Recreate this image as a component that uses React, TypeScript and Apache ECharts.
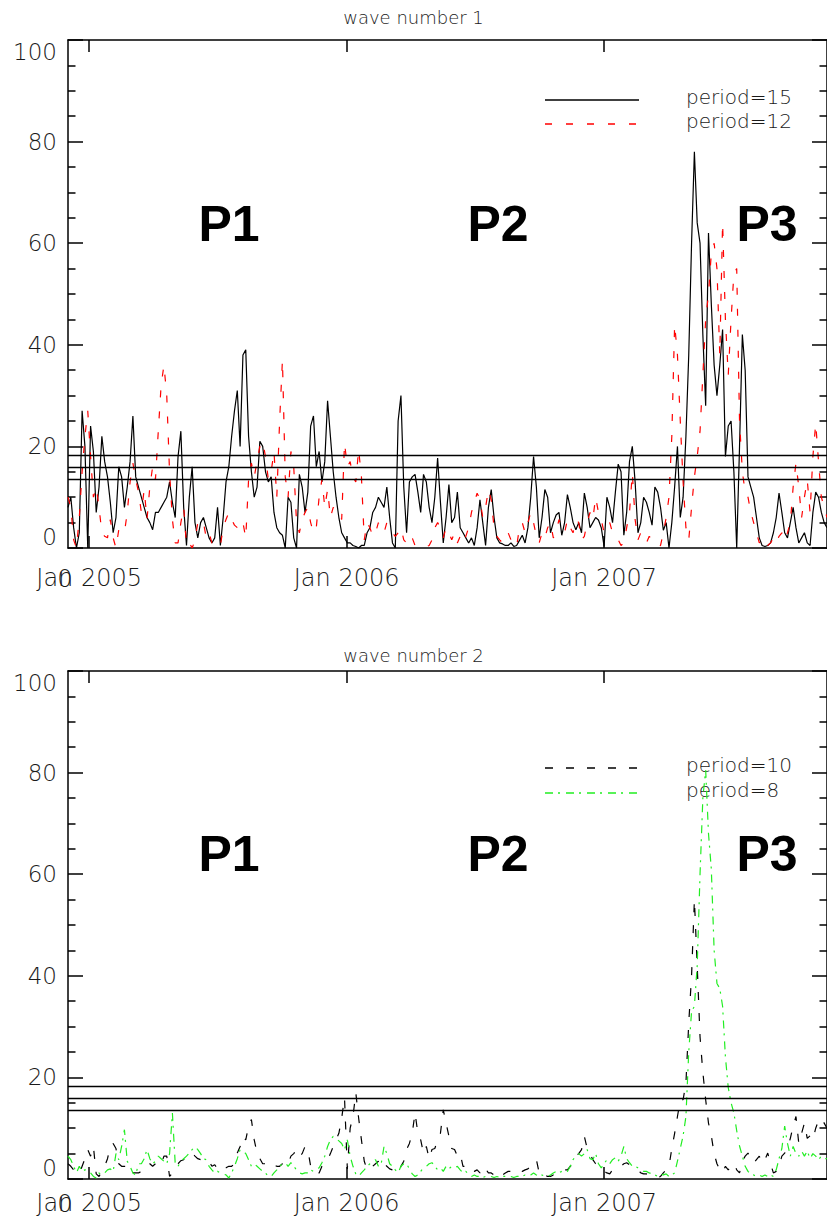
import React, { useEffect, useRef } from 'react';
import * as echarts from 'echarts';

// time axis: days since 1 Jan 2005, one reading every 4 days
const START_DAY = -30;
const STEP_DAYS = 4;
const X_MIN = -30;
const X_MAX = 1046;
const X_TICK_DAYS = [0, 365, 730];
const X_TICK_LABELS = ['Jan 2005', 'Jan 2006', 'Jan 2007'];
const Y_TICKS_MAX = 100;
const SIG_LEVELS = [18.2, 15.9, 13.6];
const TITLES = ['wave number 1', 'wave number 2'];
const PERIOD_LABELS = ['P1', 'P2', 'P3'];
const LEGEND_TOP = ['period=15', 'period=12'];
const LEGEND_BOTTOM = ['period=10', 'period=8'];

// wave number 1, period=15 (black solid)
const W1_P15 = [
  8, 10, 4, 0, 3, 27, 20, 0, 24, 19,
  7, 12, 22, 17, 14, 9, 3, 6, 16, 14,
  8, 12, 17, 26, 14, 12, 10, 8, 6, 5,
  3.6, 7, 7, 8, 9, 10, 13, 9, 6, 18,
  23, 8, 0.5, 10, 16, 5, 2, 5, 6, 4,
  2, 1, 2, 8, 0.5, 6, 13, 16, 22, 27,
  31, 20, 38, 39, 22, 15, 10, 12, 21, 20,
  15, 13, 14, 7, 4, 3, 2.5, 0, 10, 9,
  2, 0, 14.5, 12, 7, 11, 24, 26, 16, 19,
  13, 17, 29, 22, 15, 10, 6, 3, 2, 1,
  1, 0.5, 0.3, 0, 0.5, 0.5, 3, 4, 7, 8,
  10, 9, 8, 12, 6, 1, 0, 25, 30, 12,
  3, 13, 14, 14.5, 11, 7, 14.5, 13, 8, 5,
  10, 17.7, 9, 1, 6, 12.5, 5, 6, 11, 4,
  3, 2, 1, 2, 0.5, 4, 9.5, 5, 0.5, 8,
  11.5, 6, 2, 1, 0.8, 0.5, 0.5, 1, 0.3, 0.5,
  1.5, 2.5, 1, 4, 10, 18, 12, 2, 6, 11.5,
  10, 3, 5, 6.5, 7, 2.5, 5, 10.5, 8, 5,
  3.6, 5, 3, 10.8, 8, 4, 5, 6, 5.5, 4,
  0.3, 10, 8, 5, 11, 16.5, 15, 2.5, 7, 17,
  20, 13, 3, 5, 10, 9, 7, 4.5, 12, 11,
  8, 3.5, 5, 0, 5, 12, 20, 6, 10, 22,
  38, 60, 78, 64, 60, 42, 28, 62, 48, 36,
  30, 36, 43, 18, 24, 25, 15, 0, 20, 42,
  35, 14, 12, 10, 6, 2, 0.5, 0.3, 0.5, 1,
  3, 6, 10.8, 7, 3, 2, 5, 8, 4, 1,
  2, 3, 1, 0.5, 7, 11, 10, 7, 5, 4,
];

// wave number 1, period=12 (red dashed)
const W1_P12 = [
  10, 8, 1.6, 0, 6, 15, 22, 27, 18, 10,
  12, 8, 3, 2.3, 2, 5.6, 2, 0, 3.6, 3,
  3, 7, 13, 16.7, 13.5, 11, 7, 11.5, 5.6, 12,
  16, 13.5, 23, 32, 36, 30, 14.8, 5.6, 1, 1,
  5, 8, 0.5, 1, 0, 1.5, 5, 5.6, 5, 2,
  3, 1, 0.5, 0, 0.5, 4, 5.6, 7, 5.6, 4.5,
  4, 3.6, 5, 2, 13.5, 16.7, 14, 17, 20, 21,
  18, 13.5, 15, 19, 10, 25, 37, 14, 10, 19,
  16, 5, 3, 5.6, 7, 8, 5, 3, 4, 10,
  13.5, 8, 11.5, 6, 8, 7, 7, 5.6, 20.7, 16,
  17, 14, 13, 19.4, 14, 1.6, 5, 4, 2.3, 3,
  5, 3.6, 3, 5, 4, 3, 2.3, 3, 4, 1.6,
  1, 0.5, 2, 0.5, 0.3, 0.5, 0.5, 0.3, 0.5, 1.6,
  4, 5, 4, 2, 4, 3, 1.6, 3, 1, 2.3,
  1, 2.3, 4, 7, 9, 10.8, 9.5, 6, 8, 11.5,
  9.5, 4, 2.3, 1.6, 1, 2.3, 3, 1.6, 0.5, 0.3,
  4, 5, 3, 5, 7, 5, 2.3, 1, 3, 2,
  4, 5, 2, 3, 5.6, 4, 3, 5.6, 4, 3,
  5.6, 5, 1.6, 2.3, 5, 7, 5.6, 10, 7, 5.6,
  3, 4, 5, 3, 2.3, 1.6, 0.5, 1, 4, 7,
  14.8, 5.6, 1.6, 3, 2.3, 1, 2.3, 1.6, 1, 0.3,
  0.5, 3, 6, 10, 22, 44, 38, 25, 13, 4,
  1.6, 8, 14, 18, 23, 34, 45, 50, 58, 60,
  55, 38, 64, 45, 34, 45, 54, 55, 25, 15,
  11, 10, 7, 5, 3, 1, 2, 1.5, 0.5, 1,
  2, 1, 2.3, 3, 1.5, 3, 5, 12, 16.7, 12,
  6, 10, 13.4, 7, 18, 24.5, 17, 10, 8, 6,
];

// wave number 2, period=10 (black dashed)
const W2_P10 = [
  3, 2.5, 1.8, 1.2, 1, 2.5, 4, 5.8, 4.5, 6.4,
  1, 0.5, 1.5, 2.5, 4, 6.4, 7, 6, 3, 2.5,
  2.5, 2.5, 1, 1.2, 1.2, 1.2, 1.5, 2.5, 3, 3,
  2.5, 3, 2.5, 2.8, 4.5, 4.5, 0.5, 1.2, 2.5, 3,
  3.6, 3.8, 4.5, 4.8, 5.1, 4.5, 4, 3.8, 4, 3.5,
  3.5, 2.5, 2.8, 2, 1.5, 2, 2.2, 2.5, 2.5, 3,
  5.1, 6.4, 8.4, 7.7, 10.4, 11.7, 7.7, 5.1, 4, 3,
  3, 3.5, 3, 2.8, 2.5, 2.5, 3, 2.5, 3, 4.5,
  5, 5.8, 4.5, 5, 6.4, 5.8, 2.5, 1.8, 1, 1.2,
  2.5, 3, 3.8, 5, 6.4, 7.7, 9, 12, 16, 2,
  10, 12.3, 17, 12, 7.7, 3.5, 1.8, 2.5, 2.5, 3,
  3.5, 2.5, 3.2, 2.5, 2, 1.8, 1.8, 1.2, 2.5, 3.5,
  5.8, 7, 9, 13, 9, 7.7, 5, 6.4, 4, 5.8,
  6, 7.7, 9, 13.6, 11, 8.4, 6, 5.8, 4.5, 5,
  2.5, 2.5, 1.8, 1.2, 1.5, 1.8, 1.2, 2.5, 2, 1.2,
  1.2, 0.8, 1.2, 0.5, 0.8, 1.2, 1.5, 1.5, 1.2, 1.5,
  1.8, 1.5, 1.8, 2, 2.5, 3, 3.8, 1.2, 0.5, 0.8,
  0.5, 0.5, 0.8, 0.8, 1.2, 1.5, 1.8, 1.8, 2.5, 3,
  4.5, 5, 5.8, 8.4, 6, 5, 3.8, 3, 2.5, 1.8,
  1.5, 1.2, 1, 1.8, 2.2, 2.5, 2.5, 3, 3.2, 2.8,
  2.5, 2, 1.8, 1.2, 1, 1, 0.8, 0.8, 0.5, 0.3,
  0.5, 1.2, 1.8, 2.5, 6, 9, 12.3, 15.6, 15.6, 18.9,
  30.7, 40, 55, 42, 28, 21, 15.6, 11, 8.5, 5,
  3, 1.8, 1.2, 2.5, 1.8, 2.5, 3.1, 1.8, 1.2, 3.5,
  4.5, 5.1, 4, 3.1, 3.8, 4.5, 3.1, 3.8, 5.1, 3,
  1.2, 1.5, 2.5, 4.5, 5.1, 6, 8, 10.4, 12.3, 7,
  9, 11, 8, 8.5, 7.7, 10, 11.5, 12, 11, 10,
];

// wave number 2, period=8 (green dash-dot)
const W2_P8 = [
  4.5, 3.8, 2.5, 1.2, 2.5, 1.5, 1.8, 1.8, 1.2, 0.5,
  0.2, 1.2, 0.8, 1.2, 1.8, 2, 1.5, 5, 3.8, 6.4,
  9.7, 3.5, 2.5, 1.2, 0.8, 3, 3, 4, 5.8, 4,
  3, 3.5, 4.5, 4, 3.5, 3, 5, 13, 3, 2.5,
  3.5, 4, 4.5, 5.1, 5.8, 6.4, 5.8, 5, 4, 3.8,
  2.5, 1.8, 1.2, 1.5, 1.2, 1, 0.8, 0.2, 1.2, 2.5,
  4, 5.8, 5.5, 5, 3.8, 2.5, 3, 2.5, 2, 1.5,
  1.2, 0.5, 0.5, 1.2, 1.8, 2.5, 3, 3.2, 2.5, 3.2,
  2.5, 1.8, 1.2, 1, 1.2, 1.2, 1.8, 1.5, 2, 2.2,
  3.2, 4.5, 6.4, 7.7, 8.4, 8, 7.5, 7, 5.8, 7.7,
  4.5, 2.5, 1, 0.5, 1.2, 1.8, 2.5, 3, 3.5, 3.8,
  2.5, 3, 6.4, 5, 3, 2.5, 1.8, 1.2, 2.5, 3,
  3, 2, 1, 0.5, 0.8, 1.5, 2.2, 2.5, 3, 3.2,
  2.5, 1.8, 2.2, 1.5, 2.5, 2, 2.5, 2.2, 2.5, 1.8,
  1.2, 1.5, 0.8, 0.5, 0.8, 0.5, 0.5, 0.3, 0.5, 0.3,
  0.5, 0.3, 0.5, 0.3, 0.5, 0.5, 0.3, 0.5, 0.3, 0.5,
  0.5, 0.5, 0.8, 0.5, 0.8, 1.2, 0.8, 0.5, 0.8, 0.5,
  0.5, 0.8, 1.2, 1.5, 1.2, 1.5, 1.8, 1.5, 2.5, 3.8,
  4.5, 5, 4.5, 5, 5.8, 4, 3.8, 5, 3, 2.2,
  3, 3.8, 3, 3.8, 4.2, 3.5, 4.5, 6.4, 4, 3.2,
  2.5, 2.5, 2.2, 2, 1.5, 1.5, 1.2, 1, 0.8, 0.5,
  1, 0.8, 1, 0.5, 0.8, 1.2, 3.5, 6, 8.5, 12.3,
  25, 33, 34, 42, 60, 75, 80.5, 68, 61, 45,
  38.5, 37.5, 34, 24, 18, 15, 13, 9.5, 6.5, 4.5,
  2.5, 1.5, 1, 0.8, 0.5, 0.8, 0.5, 0.8, 0.5, 0.8,
  0.5, 1.8, 4, 6, 10.4, 7, 4.5, 6.4, 5, 4.5,
  5.5, 4.5, 5.5, 4, 5, 4.5, 3.8, 4.5, 4, 4,
];

const FONT = 'DejaVu Sans';
const TEXT_COLOR = '#1a1a1a';

const toPairs = (vals: number[]) => vals.map((v, i) => [START_DAY + i * STEP_DAYS, v]);

const sigMarkLine = {
  silent: true,
  symbol: ['none', 'none'],
  label: { show: false },
  lineStyle: { type: 'solid', color: '#000', width: 1.3 },
  data: SIG_LEVELS.map((v) => ({ yAxis: v })),
};

function xAxis(gridIndex: number, position: string, showLabel: boolean, margin: number) {
  return {
    type: 'value',
    gridIndex,
    position,
    min: X_MIN,
    max: X_MAX,
    axisLine: { show: true, onZero: false, lineStyle: { color: '#000', width: 1.5 } },
    axisTick: { show: true, inside: true, length: 12, customValues: X_TICK_DAYS, lineStyle: { color: '#000', width: 1.5 } },
    axisLabel: {
      show: showLabel,
      customValues: X_TICK_DAYS,
      formatter: (v: number) => {
        const k = X_TICK_DAYS.indexOf(v);
        return k >= 0 ? X_TICK_LABELS[k] : '';
      },
      margin,
      fontSize: 24,
      fontFamily: FONT,
      fontWeight: 200,
      color: TEXT_COLOR,
    },
    splitLine: { show: false },
  };
}

function yAxis(gridIndex: number, position: string, showLabel: boolean) {
  return {
    type: 'value',
    gridIndex,
    position,
    min: 0,
    max: Y_TICKS_MAX,
    interval: 20,
    axisLine: { show: true, onZero: false, lineStyle: { color: '#000', width: 1.5 } },
    axisTick: { show: true, inside: true, length: 15, lineStyle: { color: '#000', width: 1.5 } },
    minorTick: { show: true, splitNumber: 4, length: 7.5, lineStyle: { color: '#000', width: 1.5 } },
    axisLabel: {
      show: showLabel,
      margin: 11,
      fontSize: 23,
      fontFamily: FONT,
      fontWeight: 200,
      color: TEXT_COLOR,
      verticalAlignMinLabel: 'bottom',
      verticalAlignMaxLabel: 'top',
    },
    splitLine: { show: false },
    minorSplitLine: { show: false },
  };
}

function legendItems(names: string[], ys: number[], styles: any[]) {
  const out: any[] = [];
  names.forEach((n, i) => {
    out.push({ type: 'line', shape: { x1: 545, y1: ys[i], x2: 639, y2: ys[i] }, style: styles[i] });
    out.push({
      type: 'text', x: 686, y: ys[i] - 3,
      style: { text: n, fontSize: 20, fontFamily: FONT, fontWeight: 200, fill: TEXT_COLOR, align: 'left', verticalAlign: 'middle' },
    });
  });
  return out;
}

function periodLabels(y: number) {
  const xs = [229, 498, 767];
  return PERIOD_LABELS.map((t, i) => ({
    type: 'text', x: xs[i], y,
    style: { text: t, fontSize: 50, fontWeight: 'bold', fontFamily: 'Liberation Sans', fill: '#000', align: 'center', verticalAlign: 'middle' },
  }));
}

export default function App() {
  const ref = useRef<HTMLDivElement>(null);
  useEffect(() => {
    if (!ref.current) return;
    const chart = echarts.init(ref.current, null, { renderer: 'svg' });
    const solid = { stroke: '#000', lineWidth: 1.3 };
    const redDash = { stroke: '#ff0000', lineWidth: 1.3, lineDash: [7, 14] };
    const blackDash = { stroke: '#000', lineWidth: 1.3, lineDash: [8, 13] };
    const greenDashDot = { stroke: '#22ee22', lineWidth: 1.3, lineDash: [8, 5, 2, 6] };
    const option: any = {
      animation: false,
      backgroundColor: '#fff',
      title: TITLES.map((t, i) => ({
        text: t,
        left: 'center',
        top: i === 0 ? 3 : 641,
        textStyle: { fontSize: 18, fontFamily: FONT, fontWeight: 200, color: TEXT_COLOR },
      })),
      grid: [
        { left: 68, top: 40, width: 765, height: 508 },
        { left: 68, top: 671, width: 765, height: 508 },
      ],
      xAxis: [
        xAxis(0, 'bottom', true, 18), xAxis(0, 'top', false, 18),
        xAxis(1, 'bottom', true, 12), xAxis(1, 'top', false, 12),
      ],
      yAxis: [yAxis(0, 'left', true), yAxis(0, 'right', false), yAxis(1, 'left', true), yAxis(1, 'right', false)],
      series: [
        {
          type: 'line', name: LEGEND_TOP[0], xAxisIndex: 0, yAxisIndex: 0, data: toPairs(W1_P15),
          symbol: 'none', lineStyle: { color: '#000', width: 1.2 }, markLine: sigMarkLine,
        },
        {
          type: 'line', name: LEGEND_TOP[1], xAxisIndex: 0, yAxisIndex: 0, data: toPairs(W1_P12),
          symbol: 'none', lineStyle: { color: '#ff0000', width: 1.2, type: [7, 14] },
        },
        {
          type: 'line', name: LEGEND_BOTTOM[0], xAxisIndex: 2, yAxisIndex: 2, data: toPairs(W2_P10),
          symbol: 'none', lineStyle: { color: '#000', width: 1.2, type: [8, 13] }, markLine: sigMarkLine,
        },
        {
          type: 'line', name: LEGEND_BOTTOM[1], xAxisIndex: 2, yAxisIndex: 2, data: toPairs(W2_P8),
          symbol: 'none', lineStyle: { color: '#22ee22', width: 1.2, type: [8, 5, 2, 6] },
        },
      ],
      graphic: [
        ...legendItems(LEGEND_TOP, [100, 124], [solid, redDash]),
        ...legendItems(LEGEND_BOTTOM, [768, 793], [blackDash, greenDashDot]),
        ...periodLabels(224),
        ...periodLabels(854),
        { type: 'text', x: 65, y: 579, style: { text: '0', fontSize: 24, fontFamily: FONT, fontWeight: 200, fill: TEXT_COLOR, align: 'center', verticalAlign: 'middle' } },
        { type: 'text', x: 65, y: 1204, style: { text: '0', fontSize: 24, fontFamily: FONT, fontWeight: 200, fill: TEXT_COLOR, align: 'center', verticalAlign: 'middle' } },
      ],
    };
    chart.setOption(option);
    return () => chart.dispose();
  }, []);
  return (
    <div
      ref={ref}
      style={{ position: 'absolute', left: 0, top: 0, width: 827, height: 1220, background: '#fff' }}
    />
  );
}
